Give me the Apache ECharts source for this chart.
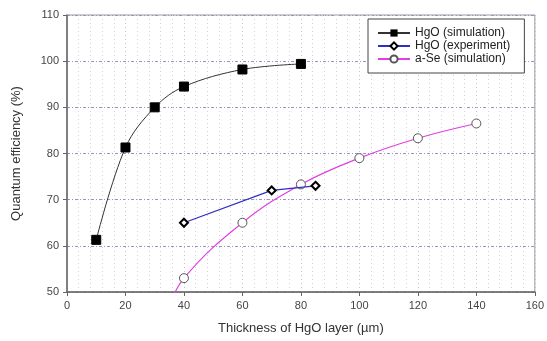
<!DOCTYPE html>
<html><head><meta charset="utf-8">
<script src="https://cdn.jsdelivr.net/npm/echarts@6/dist/echarts.min.js"></script>
<style>html,body{margin:0;padding:0;background:#fff}#c{width:547px;height:341px}</style>
</head><body><div id="c"></div>
<script>
const xTicks = [0, 20, 40, 60, 80, 100, 120, 140, 160];
const yTicks = [50, 60, 70, 80, 90, 100, 110];
const hgoSimX = [10, 20, 30, 40, 60, 80];
const hgoSimY = [61.3, 81.3, 90.0, 94.5, 98.2, 99.4];
const hgoExpX = [40, 70, 85];
const hgoExpY = [65.0, 72.0, 73.0];
const aseX = [34, 40, 60, 80, 100, 120, 140];
const aseY = [45.5, 53.0, 65.0, 73.3, 79.0, 83.3, 86.5];
const aseShowMarker = [false, true, true, true, true, true, true];
const names = ['HgO (simulation)', 'HgO (experiment)', 'a-Se (simulation)'];

const font = 'Liberation Sans, Arial, sans-serif';
const chart = echarts.init(document.getElementById('c'), null, {renderer: 'canvas'});
const pairs = (xs, ys) => xs.map((x, i) => [x, ys[i]]);
chart.setOption({
  animation: false,
  grid: {left: 67, right: 10, top: 15, bottom: 49, show: true, borderColor: '#999', borderWidth: 1},
  xAxis: {
    type: 'value', min: xTicks[0], max: xTicks[xTicks.length-1], interval: 20,
    name: 'Thickness of HgO layer (\u00b5m)', nameLocation: 'middle', nameGap: 30,
    nameTextStyle: {fontFamily: font, fontSize: 13, color: '#333'},
    axisLine: {onZero: false, lineStyle: {color: '#666', width: 1.5}},
    axisTick: {show: true, inside: false, length: 4, lineStyle: {color: '#666'}},
    axisLabel: {fontFamily: font, fontSize: 11, color: '#444', margin: 8},
    splitLine: {show: true, lineStyle: {color: '#c0c2dc', type: [1, 3], width: 1}},
    minorTick: {show: true, splitNumber: 5, length: 0},
    minorSplitLine: {show: true, lineStyle: {color: '#cfd0e0', type: [1, 3], width: 1}}
  },
  yAxis: {
    type: 'value', min: yTicks[0], max: yTicks[yTicks.length-1], interval: 10,
    name: 'Quantum efficiency (%)', nameLocation: 'middle', nameGap: 44,
    nameTextStyle: {fontFamily: font, fontSize: 13, color: '#333'},
    axisLine: {show: true, lineStyle: {color: '#666', width: 1.5}},
    axisTick: {show: true, inside: false, length: 4, lineStyle: {color: '#666'}},
    axisLabel: {fontFamily: font, fontSize: 11, color: '#444', margin: 8},
    splitLine: {show: true, lineStyle: {color: '#9496c4', type: [3, 2, 1, 2], width: 1}}
  },
  legend: {
    orient: 'vertical', left: 368, top: 19, itemWidth: 32, itemHeight: 9, itemGap: 1,
    padding: [8, 14, 8, 9], borderColor: '#444', borderWidth: 1, backgroundColor: '#fff',
    textStyle: {fontFamily: font, fontSize: 12, color: '#222'},
    data: names
  },
  series: [
    {name: names[0], type: 'line', smooth: 0.35, data: pairs(hgoSimX, hgoSimY),
     symbol: 'rect', symbolSize: 9, lineStyle: {color: '#333', width: 1},
     itemStyle: {color: '#000', borderColor: '#000'}, z: 5},
    {name: names[1], type: 'line', smooth: false, data: pairs(hgoExpX, hgoExpY),
     symbol: 'diamond', symbolSize: 8, lineStyle: {color: '#3030c0', width: 1.2},
     itemStyle: {color: '#fff', borderColor: '#000', borderWidth: 2}, z: 4},
    {name: names[2], type: 'line', smooth: 0.4, clip: true,
     data: aseX.map((x, i) => aseShowMarker[i] ? [x, aseY[i]] : {value: [x, aseY[i]], symbol: 'none'}),
     symbol: 'circle', symbolSize: 9, showAllSymbol: true, lineStyle: {color: '#e040e0', width: 1.2},
     itemStyle: {color: '#fff', borderColor: '#555', borderWidth: 1}, z: 3}
  ]
});
</script></body></html>
